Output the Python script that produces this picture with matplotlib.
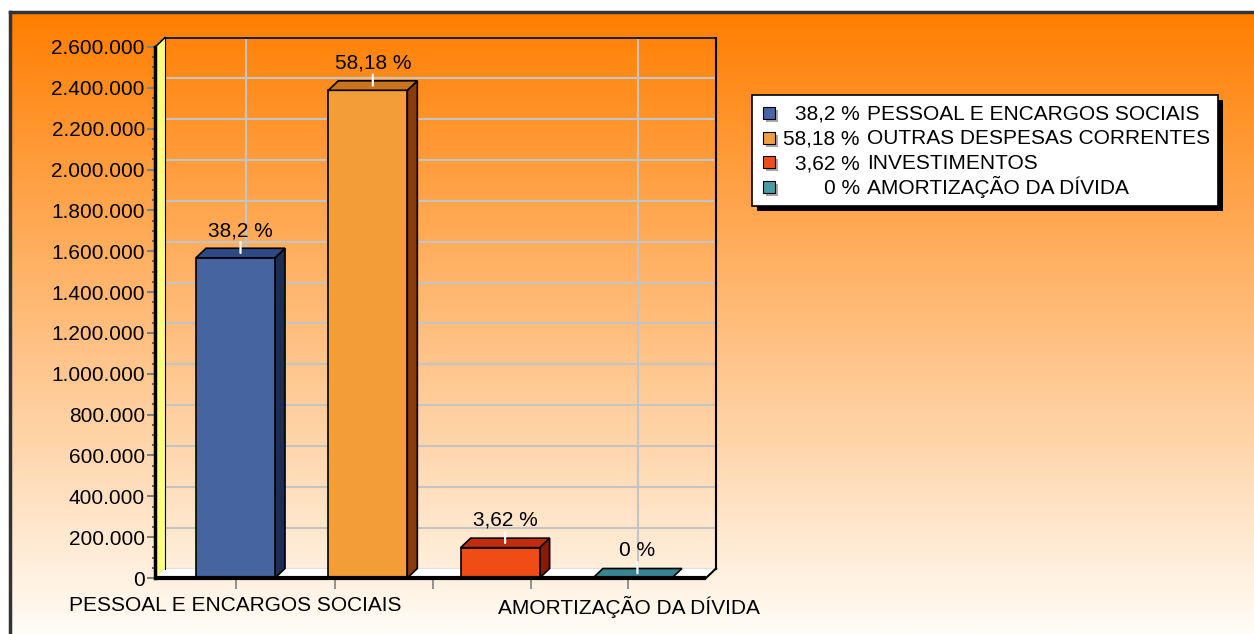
import numpy as np
import matplotlib
matplotlib.use("Agg")
import matplotlib.pyplot as plt
from matplotlib.patches import Polygon, Rectangle
from matplotlib.ticker import FuncFormatter, MultipleLocator

plt.rcParams['font.family'] = ['Liberation Sans', 'DejaVu Sans']

# --- dados ---
categorias = ["PESSOAL E ENCARGOS SOCIAIS", "OUTRAS DESPESAS CORRENTES",
              "INVESTIMENTOS", "AMORTIZAÇÃO DA DÍVIDA"]
valores = [1568000, 2388000, 148600, 0]
percentuais = ["38,2 %", "58,18 %", "3,62 %", "0 %"]
rotulos_x = ["PESSOAL E ENCARGOS SOCIAIS", "", "", "AMORTIZAÇÃO DA DÍVIDA"]

cor_frente = ["#4665A0", "#F29D38", "#F04D16", "#3C8996"]
cor_topo = ["#2D4A85", "#C9741E", "#C22C0A", "#3A8593"]
cor_lado = ["#1D2B57", "#8A3C0C", "#8A1A02", "#245E68"]
cor_legenda = ["#4565A5", "#F0A040", "#F04E16", "#4A9AA8"]

FS = 15

W, H = 1254, 634
fig = plt.figure(figsize=(W / 100, H / 100), dpi=100)
fig.patch.set_facecolor("white")


def fx(x):
    return x / W


def fy(y):
    return 1 - y / H


# fundo em degrade
bg = fig.add_axes([fx(10), 0, 1 - fx(10), fy(12)], zorder=0)
grad = np.linspace(0, 1, 256)[:, None]
topo = np.array([255, 126, 0]) / 255
base = np.array([255, 252, 246]) / 255
img = topo[None, None, :] * (1 - grad[..., None]) + base[None, None, :] * grad[..., None]
bg.imshow(img, aspect="auto", extent=[0, 1, 0, 1])
bg.set_axis_off()

# moldura
fig.add_artist(plt.Line2D([fx(10), 1], [fy(12), fy(12)], color="#333333", lw=2.5))
fig.add_artist(plt.Line2D([fx(10), fx(10)], [fy(12), 0], color="#333333", lw=2.5))

# eixo principal (plano da frente)
ax = fig.add_axes([fx(155), fy(578), fx(706) - fx(155), fy(47) - fy(578)], zorder=2)
ax.patch.set_alpha(0)
ymax = 2600000
xmin, xmax = -0.6085, 3.556
ax.set_xlim(xmin, xmax)
ax.set_ylim(0, ymax)
for s in ax.spines.values():
    s.set_visible(False)

dx = 10 / 132.3
dy = 9.5 * ymax / 531
largura = 0.597

# parede do fundo: grade
cinza = "#C4C4C4"
for v in range(0, ymax + 1, 200000):
    ax.plot([xmin + dx, xmax + dx], [v + dy, v + dy], color=cinza, lw=1.5, clip_on=False, zorder=1)
    ax.plot([xmin, xmin + dx], [v, v + dy], color=cinza, lw=1.5, clip_on=False, zorder=1)
for xv in [0, 2.97]:
    ax.plot([xv + dx, xv + dx], [dy, ymax + dy], color=cinza, lw=1.5, clip_on=False, zorder=1)

# parede lateral amarela
ax.add_patch(Polygon([(xmin, 0), (xmin + dx, dy), (xmin + dx, ymax + dy), (xmin, ymax)],
                     closed=True, facecolor="#FFFF80", edgecolor="none", clip_on=False, zorder=1.5))
# piso branco
ax.add_patch(Polygon([(xmin, 0), (xmin + dx, dy), (xmax + dx, dy), (xmax, 0)],
                     closed=True, facecolor="white", edgecolor="none", clip_on=False, zorder=1.5))
# arestas
ax.plot([xmin + dx, xmax + dx], [ymax + dy, ymax + dy], color="black", lw=1.2, clip_on=False, zorder=2)
ax.plot([xmax + dx, xmax + dx], [dy, ymax + dy], color="black", lw=1.5, clip_on=False, zorder=2)
ax.plot([xmin, xmin + dx], [ymax, ymax + dy], color="black", lw=1.2, clip_on=False, zorder=2)
ax.plot([xmin + dx, xmin + dx], [dy, ymax + dy], color="black", lw=0.8, clip_on=False, zorder=2)
ax.plot([xmax, xmax + dx], [0, dy], color="black", lw=1.5, clip_on=False, zorder=2)

# barras 3D
pos = np.arange(len(valores))
for i, v in enumerate(valores):
    x0 = pos[i] - largura / 2
    x1 = pos[i] + largura / 2
    if v > 0:
        ax.add_patch(Polygon([(x1, 0), (x1 + dx, dy), (x1 + dx, v + dy), (x1, v)], closed=True,
                             facecolor=cor_lado[i], edgecolor="black", lw=1.2, clip_on=False, zorder=3))
        ax.add_patch(Rectangle((x0, 0), largura, v, facecolor=cor_frente[i], edgecolor="black",
                               lw=1.2, clip_on=False, zorder=3))
    ax.add_patch(Polygon([(x0, v), (x0 + dx, v + dy), (x1 + dx, v + dy), (x1, v)], closed=True,
                         facecolor=cor_topo[i], edgecolor="black", lw=1.2, clip_on=False, zorder=3))
    xc = pos[i] + dx / 2
    yc = v + dy / 2
    ax.annotate("", xy=(xc, yc), xytext=(0, 11), textcoords="offset pixels",
                arrowprops=dict(arrowstyle="-", color="white", lw=1.6, shrinkA=0, shrinkB=0),
                zorder=4, annotation_clip=False)
    ax.annotate(percentuais[i], xy=(xc, yc), xytext=(0, 13), textcoords="offset pixels",
                ha="center", va="bottom", fontsize=FS, color="black", zorder=4,
                annotation_clip=False)

# linhas da frente
ax.plot([xmin, xmax], [0, 0], color="black", lw=3, clip_on=False, zorder=5, solid_capstyle="butt")
ax.plot([xmin, xmin], [0, ymax], color="black", lw=2.5, clip_on=False, zorder=5)

# eixo y
ax.yaxis.set_major_locator(MultipleLocator(200000))
ax.yaxis.set_minor_locator(MultipleLocator(50000))
ax.yaxis.set_major_formatter(FuncFormatter(lambda v, p: f"{int(v):,}".replace(",", ".")))
ax.tick_params(axis="y", which="major", length=5.8, width=1.5, color="#808080", pad=1.5,
               labelsize=FS)
ax.tick_params(axis="y", which="minor", length=2.2, width=1.2, color="#505050")

# eixo x
ax.tick_params(axis="x", which="both", length=7.9, width=1.2, color="#808080", pad=5,
               labelsize=FS)
ax.set_xticks([0, 2.97])
ax.set_xticklabels([rotulos_x[0], rotulos_x[3]])
ax.set_xticks([0.75, 1.49, 2.23], minor=True)

# legenda
lx0, ly0, lx1, ly1 = 752, 95, 1218, 206
fig.add_artist(Rectangle((fx(lx0 + 5), fy(ly1 + 5)), fx(lx1 - lx0), fy(ly0) - fy(ly1),
                         facecolor="black", edgecolor="none", transform=fig.transFigure, zorder=5))
fig.add_artist(Rectangle((fx(lx0), fy(ly1)), fx(lx1 - lx0), fy(ly0) - fy(ly1),
                         facecolor="white", edgecolor="black", lw=1.2, transform=fig.transFigure, zorder=6))
linhas_y = [119.5, 144.5, 169, 194]
for i, yb in enumerate(linhas_y):
    yc = yb - 7
    fig.add_artist(Rectangle((fx(766), fy(yc + 9)), fx(12), fy(0) - fy(12),
                             facecolor="#A8A8A8", edgecolor="none", transform=fig.transFigure, zorder=6))
    fig.add_artist(Rectangle((fx(763), fy(yc + 6)), fx(12), fy(0) - fy(12),
                             facecolor=cor_legenda[i], edgecolor="black", lw=0.8,
                             transform=fig.transFigure, zorder=7))
    fig.text(fx(860), fy(yb), percentuais[i], ha="right", va="baseline", fontsize=FS, zorder=7)
    fig.text(fx(867), fy(yb), categorias[i], ha="left", va="baseline", fontsize=FS, zorder=7)

fig.savefig("out.png", dpi=100)
